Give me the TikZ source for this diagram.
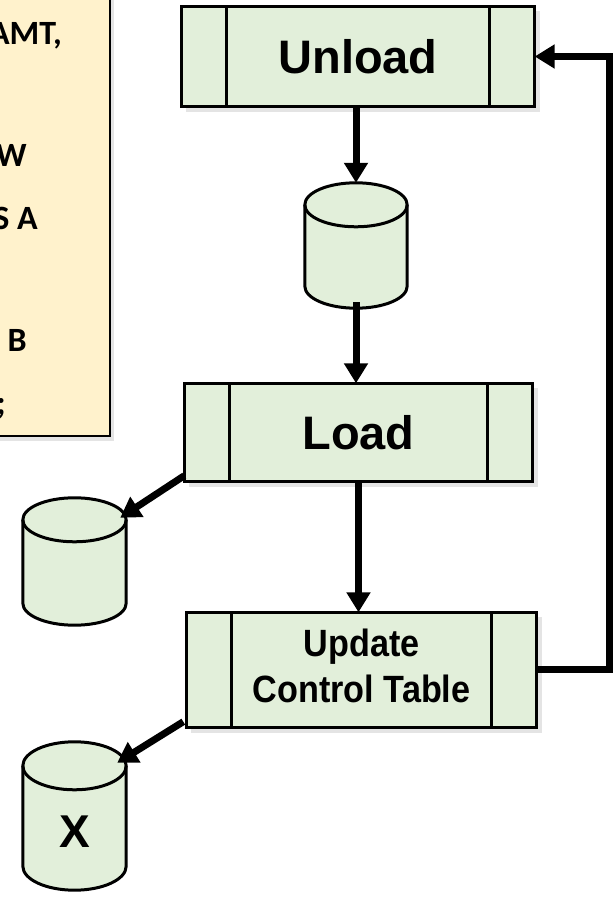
\documentclass[tikz,border=0pt]{standalone}
\usepackage{fontspec}
\setmainfont{Liberation Sans}
\newfontfamily\notefont{Carlito}
\usetikzlibrary{arrows.meta,calc,shadows}
\definecolor{boxgreen}{HTML}{E2EFDA}
\definecolor{noteyellow}{HTML}{FFF2CC}
\definecolor{shadowgray}{HTML}{E4E4E4}
\tikzset{
  procbox/.style={draw=black, line width=3pt, fill=boxgreen, inner sep=0pt, align=center,
    path picture={\draw[line width=3pt]
      ([xshift=45pt]path picture bounding box.north west) -- ([xshift=45pt]path picture bounding box.south west)
      ([xshift=-45pt]path picture bounding box.north east) -- ([xshift=-45pt]path picture bounding box.south east);}},
  cylnode/.style={inner sep=0pt},
  arr/.style={line width=7pt, -{Triangle[width=23pt,length=20pt]}},
  bigtext/.style={font=\bfseries\fontsize{47}{56}\selectfont},
  notetext/.style={anchor=base east, inner sep=0pt, font=\notefont\bfseries\fontsize{34}{40}\selectfont},
}
\newcommand\cylpath[2]{%
  let \p1=(#1.north west), \p2=(#1.south east), \n1={(\x2-\x1)/2} in
  (\x1,\y1-#2pt) -- (\x1,\y2+#2pt) arc[start angle=180,end angle=360,x radius=\n1,y radius=#2pt]
  -- (\x2,\y1-#2pt) arc[start angle=0,end angle=180,x radius=\n1,y radius=#2pt] -- cycle}
\newcommand\cylfront[2]{%
  let \p1=(#1.north west), \p2=(#1.south east), \n1={(\x2-\x1)/2} in
  (\x1,\y1-#2pt) arc[start angle=180,end angle=360,x radius=\n1,y radius=#2pt]}
\newcommand\boxshadow[1]{%
  \fill[shadowgray] ([shift={(5pt,-5pt)}]#1.north west) rectangle ([shift={(5pt,-5pt)}]#1.south east);}
\begin{document}
\begin{tikzpicture}[x=1pt,y=1pt]
\useasboundingbox (0,0) rectangle (616,898);
\fill[white] (0,0) rectangle (616,898);

% note box (cropped at left/top)
\fill[shadowgray] (-20,457) rectangle (114,920);
\node[draw=black, line width=2pt, fill=noteyellow, minimum width=129pt, minimum height=457pt, inner sep=0pt] (note) at (45.5,690.5) {};
\node[notetext] (t1) at (62,853) {AMT,};
\node[notetext] (t2) at (27,731) {W};
\node[notetext] (t3) at (38,668) {S A};
\node[notetext] (t4) at (27,546) {B};
\node[notetext] (t5) at (6,483) {;};

% process boxes
\path node[minimum width=353pt, minimum height=100pt] (unload) at (358,841.5) {}
      node[minimum width=348pt, minimum height=98pt] (load) at (358.5,465.5) {}
      node[minimum width=350pt, minimum height=115pt] (update) at (361.5,228) {};
\boxshadow{unload}\boxshadow{load}\boxshadow{update}
\node[procbox, bigtext, minimum width=353pt, minimum height=100pt] at (unload) {Unload};
\node[procbox, bigtext, minimum width=348pt, minimum height=98pt] at (load) {Load};
\node[procbox, font=\bfseries\fontsize{38}{50}\selectfont, minimum width=350pt, minimum height=115pt] at (update)
  {\scalebox{0.9}[1]{\begin{tabular}{@{}c@{}}Update\\[-4pt]Control Table\end{tabular}}};

% cylinders
\node[cylnode, minimum width=102pt, minimum height=125pt] (c1) at (356,652.5) {};
\node[cylnode, minimum width=103pt, minimum height=127pt] (c2) at (74.5,336.5) {};
\node[cylnode, minimum width=103pt, minimum height=148pt] (cx) at (74.5,82) {};
\foreach \c/\r in {c1/22,c2/22,cx/24}{
  \fill[shadowgray, shift={(5,-5)}] \cylpath{\c}{\r};
  \filldraw[fill=boxgreen, draw=black, line width=3pt] \cylpath{\c}{\r};
  \draw[line width=3pt] \cylfront{\c}{\r};
}
\node[font=\bfseries\fontsize{46}{50}\selectfont, inner sep=0pt] at ([yshift=-16pt]cx.center) {X};

% connectors
\draw[arr] (unload.south -| c1.north) -- (c1.north);
\draw[arr] ([yshift=6pt]c1.south) -- (load.north -| c1.south);
\draw[arr] (load.south) -- (load.south |- update.north);
\draw[arr] ([yshift=6pt]load.south west) -- ([xshift=-6pt,yshift=-20pt]c2.north east);
\draw[arr] ([xshift=-3pt,yshift=6pt]update.south west) -- ([xshift=-9pt,yshift=-21pt]cx.north east);
\coordinate (fb) at (609,500);
\draw[arr] (update.east) -| (fb) |- (unload.east);
\end{tikzpicture}
\end{document}
